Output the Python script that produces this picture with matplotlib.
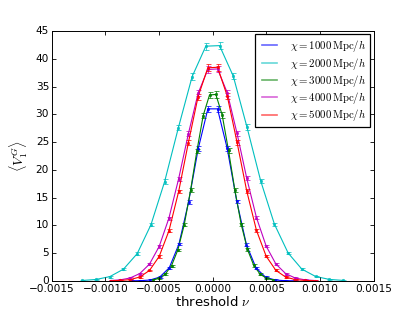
import matplotlib
matplotlib.use('Agg')
import matplotlib.pyplot as plt
import numpy as np

plt.style.use('classic')
plt.rcParams['mathtext.fontset'] = 'cm'
plt.rcParams['figure.facecolor'] = 'white'
plt.rcParams['savefig.facecolor'] = 'white'

# 阈值网格 (单位 1e-3)
nu_1000 = [-0.765, -0.675, -0.585, -0.495, -0.405, -0.315, -0.225, -0.135, -0.045,
           0.045, 0.135, 0.225, 0.315, 0.405, 0.495, 0.585, 0.675, 0.765]
nu_2000 = [-1.216, -1.088, -0.960, -0.832, -0.704, -0.576, -0.448, -0.320, -0.192, -0.064,
           0.064, 0.192, 0.320, 0.448, 0.576, 0.704, 0.832, 0.960, 1.088, 1.216]
nu_3000 = [-0.5605, -0.5015, -0.4425, -0.3835, -0.3245, -0.2655, -0.2065, -0.1475, -0.0885, -0.0295,
           0.0295, 0.0885, 0.1475, 0.2065, 0.2655, 0.3245, 0.3835, 0.4425, 0.5015, 0.5605]
nu_4000 = [-0.9525, -0.8618, -0.7711, -0.6804, -0.5897, -0.4989, -0.4082, -0.3175, -0.2268, -0.1361, -0.0454,
           0.0454, 0.1361, 0.2268, 0.3175, 0.4082, 0.4989, 0.5897, 0.6804, 0.7711, 0.8618, 0.9525]
nu_5000 = nu_4000

# <V_1^G> 数值
v_1000 = [0.003, 0.02, 0.14, 0.66, 2.35, 6.6, 14.2, 23.8, 31.0,
          31.0, 23.9, 14.3, 6.5, 2.3, 0.62, 0.14, 0.02, 0.003]
v_2000 = [0.06, 0.24, 0.75, 2.1, 4.9, 10.1, 17.9, 27.6, 36.8, 42.3,
          42.4, 36.9, 27.7, 18.0, 10.2, 5.0, 2.1, 0.78, 0.25, 0.07]
v_3000 = [0.16, 0.47, 1.2, 2.75, 5.6, 10.1, 16.3, 23.4, 29.8, 33.5,
          33.6, 29.9, 23.5, 16.4, 10.2, 5.65, 2.76, 1.2, 0.46, 0.16]
v_4000 = [0.05, 0.17, 0.5, 1.3, 3.0, 6.2, 11.3, 18.4, 26.5, 33.8, 38.1,
          38.2, 33.9, 26.6, 18.5, 11.4, 6.25, 3.02, 1.3, 0.49, 0.17, 0.05]
v_5000 = [0.01, 0.06, 0.21, 0.68, 1.86, 4.4, 9.0, 16.1, 24.9, 33.2, 38.4,
          38.5, 33.3, 25.0, 16.2, 9.1, 4.43, 1.87, 0.68, 0.21, 0.06, 0.01]

chi_list = [1000, 2000, 3000, 4000, 5000]
colors = ['b', 'c', 'g', 'm', 'r']
nus = [nu_1000, nu_2000, nu_3000, nu_4000, nu_5000]
vals = [v_1000, v_2000, v_3000, v_4000, v_5000]

fig, ax = plt.subplots(figsize=(4.15, 3.12), dpi=100)

for chi, c, nu, v in zip(chi_list, colors, nus, vals):
    nu = np.array(nu) * 1e-3
    v = np.array(v)
    err = 0.15 + 0.012 * v  # 误差棒
    ax.errorbar(nu, v, yerr=err, color=c, fmt='.', ms=3.5, mec=c,
                capsize=1.8, elinewidth=0.6, capthick=0.6, alpha=0.85)
    ax.plot(nu, v, color=c, lw=0.8,
            label=r'$\chi=%d\,\mathrm{Mpc}/h$' % chi)

ax.set_xlim(-0.0015, 0.0015)
ax.set_ylim(0, 45)
ax.set_xticks([-0.0015, -0.001, -0.0005, 0, 0.0005, 0.001, 0.0015])
ax.set_xticklabels(['\u22120.0015', '\u22120.0010', '\u22120.0005', '0.0000',
                    '0.0005', '0.0010', '0.0015'])
ax.set_yticks(range(0, 46, 5))
ax.tick_params(labelsize=7.6, length=2.8, width=0.6, pad=2)
ax.set_xlabel(r'threshold $\nu$', fontsize=9.5, labelpad=1)
ax.set_ylabel(r'$\langle V_1^G\rangle$', fontsize=10, labelpad=4)
for s in ax.spines.values():
    s.set_linewidth(0.7)

leg = ax.legend(loc='upper right', fontsize=7.8, handlelength=2.0,
                borderpad=0.35, labelspacing=0.12, handletextpad=0.9,
                borderaxespad=0.3)
leg.get_frame().set_linewidth(0.9)
for ln in leg.get_lines():
    ln.set_alpha(0.6)
    ln.set_linewidth(1.2)

fig.subplots_adjust(left=0.125, right=0.9, bottom=0.1, top=0.9)
fig.savefig('out.png', dpi=100)
